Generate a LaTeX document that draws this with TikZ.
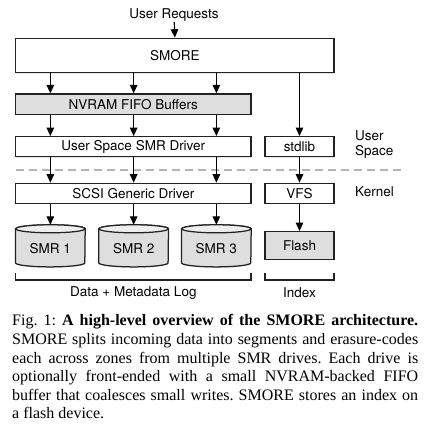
\documentclass[tikz,border=0pt]{standalone}
\usepackage{fontspec}
\setmainfont{Liberation Serif}
\newfontfamily\diagfont{TeX Gyre Heros}
\usetikzlibrary{arrows.meta,shadows,calc}
\definecolor{boxline}{HTML}{222222}
\definecolor{boxgray}{HTML}{DEDEDE}
\definecolor{boxtop}{HTML}{EEEEEE}
\definecolor{dashgray}{HTML}{B4B4B4}
\tikzset{
  lbl/.style={font=\diagfont\fontsize{13.5}{15}\selectfont, text=black, inner sep=0pt},
  blk/.style={draw=boxline, line width=1.25pt, fill=white, inner sep=0pt, lbl,
     drop shadow={shadow xshift=0.4pt, shadow yshift=-0.9pt, opacity=0.2}},
  gblk/.style={blk, fill=boxgray},
  arr/.style={draw=black, line width=1.2pt, -{Triangle[length=8.5pt,width=7.5pt]}},
  cylbody/.style={draw=boxline, line width=1.25pt, fill=boxgray,
     drop shadow={shadow xshift=0.4pt, shadow yshift=-0.9pt, opacity=0.2}},
  cyltop/.style={draw=boxline, line width=1.25pt, fill=boxtop},
  brk/.style={draw=boxline, line width=1.25pt},
}
\newcommand{\drawcyl}[1]{%
  \path[cylbody] ([yshift=-4pt]#1.north west) -- ([yshift=4pt]#1.south west)
     arc[start angle=180, end angle=360, x radius=34.65pt, y radius=4pt]
     -- ([yshift=-4pt]#1.north east)
     arc[start angle=0, end angle=180, x radius=34.65pt, y radius=4pt] -- cycle;
  \path[cyltop] ([yshift=-4pt]#1.north) ellipse[x radius=34.65pt, y radius=4pt];
}
\begin{document}
\begin{tikzpicture}[x=1pt,y=1pt]
\useasboundingbox[fill=white] (0,0) rectangle (428,430);

\node[lbl] (req) at (174,414.5) {User Requests};
\node[blk, minimum width=318.3pt, minimum height=34.4pt] (smore) at (174.85,374.5) {SMORE};
\node[gblk, minimum width=235.3pt, minimum height=20.3pt] (nvram) at (133.35,325.85) {NVRAM FIFO Buffers};
\node[blk, minimum width=235.3pt, minimum height=20pt] (usd) at (133.35,283.3) {User Space SMR Driver};
\node[blk, minimum width=69pt, minimum height=20pt] (stdlib) at (299.5,283.3) {stdlib};
\node[blk, minimum width=235.3pt, minimum height=20pt] (scsi) at (133.35,236.7) {SCSI Generic Driver};
\node[blk, minimum width=69pt, minimum height=20pt] (vfs) at (299.5,236.7) {VFS};
\node[gblk, minimum width=69pt, minimum height=27.6pt] (flash) at (299.5,184.5) {};

\node[inner sep=0pt, minimum width=69.3pt, minimum height=41.7pt] (smr1) at (50.35,184.15) {};
\node[inner sep=0pt, minimum width=69.3pt, minimum height=41.7pt] (smr2) at (133.65,184.15) {};
\node[inner sep=0pt, minimum width=69.3pt, minimum height=41.7pt] (smr3) at (216.35,184.15) {};
\drawcyl{smr1}
\drawcyl{smr2}
\drawcyl{smr3}
\node[lbl] at ([yshift=-3pt]smr1.center) {SMR 1};
\node[lbl] at ([yshift=-3pt]smr2.center) {SMR 2};
\node[lbl] at ([yshift=-3pt]smr3.center) {SMR 3};
\node[lbl] at (flash.center) {Flash};

% side labels
\node[lbl, anchor=west] (user) at (355,294.3) {User};
\node[lbl, anchor=west] (space) at (355,277.7) {Space};
\node[lbl, anchor=west] (kernel) at (355,238.3) {Kernel};

% dashed separator
\coordinate (dl) at (15.7,260);
\coordinate (dr) at (404,260);
\draw[dashgray, line width=1.4pt, dash pattern=on 8pt off 5pt] (dl) -- (dr);

% arrows
\draw[arr] (req) -- (smore.north);
\foreach \c in {smr1,smr2,smr3}{
  \draw[arr] (smore.south -| \c) -- (nvram.north -| \c);
  \draw[arr] (nvram.south -| \c) -- (usd.north -| \c);
  \draw[arr] (usd.south -| \c) -- (scsi.north -| \c);
  \draw[arr] (scsi.south -| \c) -- (\c.north);
}
\draw[arr] (smore.south -| stdlib) -- (stdlib.north);
\draw[arr] (stdlib.south) -- (vfs.north);
\draw[arr] (vfs.south) -- (flash.north);

% brackets
\coordinate (b1a) at (15.7,156.7);
\coordinate (b1b) at (251,156.7);
\coordinate (b2a) at (265,156.7);
\coordinate (b2b) at (334,156.7);
\draw[brk] (b1a) -- ++(0,-6.7) -| (b1b);
\draw[brk] (b2a) -- ++(0,-6.7) -| (b2b);
\node[lbl] (dlog) at (133.35,137.3) {Data + Metadata Log};
\node[lbl] (index) at (299.5,137.3) {Index};

% caption
\node[anchor=north west, inner sep=0pt, text width=406pt, align=justify,
  font=\fontsize{16}{18.6}\selectfont\frenchspacing] (cap) at (12,115.5)
{Fig. 1: \textbf{A high-level overview of the SMORE architecture.}\linebreak
SMORE splits incoming data into segments and erasure-codes\linebreak
each across zones from multiple SMR drives. Each drive is\linebreak
optionally front-ended with a small NVRAM-backed FIFO\linebreak
buffer that coalesces small writes. SMORE stores an index on\linebreak
a flash device.};
\end{tikzpicture}
\end{document}
